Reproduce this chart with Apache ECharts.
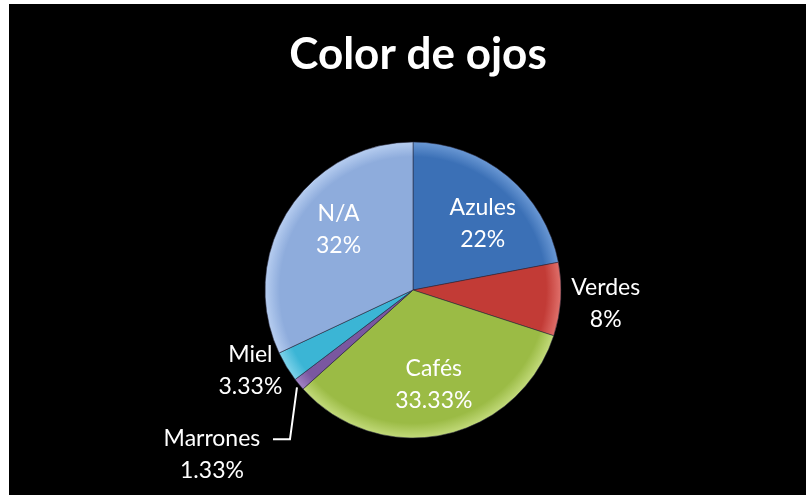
<!DOCTYPE html>
<html><head><meta charset="utf-8">
<script src="https://cdn.jsdelivr.net/npm/echarts@6/dist/echarts.min.js"></script>
<style>
html,body{margin:0;padding:0;background:#fff;width:806px;height:495px;overflow:hidden}
#c{position:absolute;left:9px;top:4px;width:797px;height:491px;background:#000}
</style></head><body><div id="c"></div>
<script>
const titleText = 'Color de ojos';
const categories = ['Azules','Verdes','Cafés','Marrones','Miel','N/A'];
const values = [33, 12, 50, 2, 5, 48];
const pctLabels = ['22%','8%','33.33%','1.33%','3.33%','32%'];
const colors = ['#3B70B6','#C23B36','#9BBB45','#7A57A0','#3BB5D5','#8EACDC'];
const lighter = ['#6A98D4','#E0706B','#C2DA7A','#A184C4','#7FD3EA','#B6CDF0'];
const insideSet = ['Azules','Cafés','N/A'];

const CX = 404, CY = 286, R = 148;
const FONT = 'Lato, "Open Sans", sans-serif';
const FS = 23, LH = 32;

function grad(i){
  return new echarts.graphic.RadialGradient(CX, CY, R, [
    {offset:0, color:colors[i]},
    {offset:0.9, color:colors[i]},
    {offset:1, color:lighter[i]}
  ], true);
}

const mainData = categories.map((n,i)=>{
  const inside = insideSet.includes(n);
  const d = {name:n, value:values[i], itemStyle:{color:grad(i)}};
  if (inside) { d.label = {show:false}; d.labelLine = {show:false}; }
  if (n==='Marrones') d.labelLine = {show:true, lineStyle:{color:'#fff', width:2}};
  return d;
});
const labelData = categories.map((n,i)=>({
  name:n, value:values[i],
  label:{show: insideSet.includes(n)}
}));

function midPoint(i){
  const total = values.reduce((a,b)=>a+b,0);
  let cum = 0; for(let k=0;k<i;k++) cum+=values[k];
  const mid = (cum + values[i]/2)/total*2*Math.PI;
  return [CX + R*Math.sin(mid), CY - R*Math.cos(mid)];
}

const chart = echarts.init(document.getElementById('c'), null, {renderer:'canvas'});
chart.setOption({
  backgroundColor:'#000',
  animation:false,
  title:{text:titleText, left:CX, top:24, textAlign:'center',
    textStyle:{color:'#fff', fontSize:44, fontWeight:'bold', fontFamily:FONT}},
  series:[
    {
      type:'pie', center:[CX,CY], radius:[0,R], startAngle:90, clockwise:true,
      silent:true,
      itemStyle:{borderColor:'rgba(40,40,60,0.55)', borderWidth:1},
      data:mainData,
      label:{
        show:true, position:'outside', color:'#fff', fontFamily:FONT, fontSize:FS, lineHeight:LH,
        formatter:p=>'{a|'+p.name+'}\n{a|'+pctLabels[p.dataIndex]+'}',
        rich:{a:{color:'#fff', fontFamily:FONT, fontSize:FS, lineHeight:LH, width:110, align:'center'}}
      },
      labelLine:{show:false, length:4, length2:0},
      labelLayout:function(p){
        const i = p.dataIndex;
        const name = categories[i];
        const [ex, ey] = midPoint(i);
        if (name==='Verdes') return {x: ex+45, y: ey+4, align:'center', verticalAlign:'middle'};
        if (name==='Miel') return {x: ex-36, y: ey+4, align:'center', verticalAlign:'middle'};
        if (name==='Marrones') {
          return {x: ex-87, y: ey+70, align:'center', verticalAlign:'middle',
            labelLinePoints:[[ex-2, ey+3],[ex-9, ey+55],[ex-26, ey+55]]};
        }
        return {};
      }
    },
    {
      type:'pie', center:[CX,CY], radius:[46,R], startAngle:90, clockwise:true,
      silent:true,
      itemStyle:{color:'rgba(0,0,0,0)'},
      data:labelData,
      label:{position:'inside', color:'#fff', fontFamily:FONT, fontSize:FS, lineHeight:LH,
        formatter:p=>p.name+'\n'+pctLabels[p.dataIndex]},
      labelLine:{show:false},
      labelLayout:function(p){
        const n = categories[p.dataIndex];
        if (n==='Azules') return {dx:6, dy:11};
        if (n==='N/A') return {dx:10, dy:-7};
        if (n==='Cafés') return {dx:0, dy:-3};
        return {};
      }
    }
  ]
});
</script></body></html>
